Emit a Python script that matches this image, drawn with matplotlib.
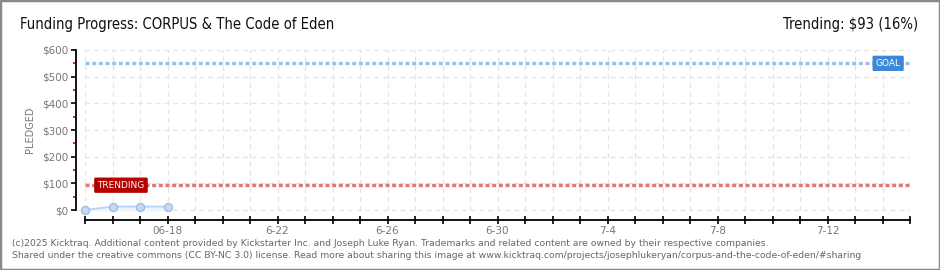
import matplotlib
matplotlib.use("Agg")
import matplotlib.pyplot as plt
import matplotlib.transforms as mtransforms
import pandas as pd
from matplotlib.patches import Rectangle

# chart data
title = "Funding Progress: CORPUS & The Code of Eden"
trend_label = "Trending: $93 (16%)"
days = pd.date_range("2025-06-15", "2025-06-18")
pledged = [0, 13, 13, 13]
goal = 550
trending = 93
all_days = pd.date_range("2025-06-15", "2025-07-15")
label_days = pd.date_range("2025-06-18", "2025-07-12", freq="4D")
label_text = ["06-18", "6-22", "6-26", "6-30", "7-4", "7-8", "7-12"]
y_ticks = [0, 100, 200, 300, 400, 500, 600]
y_minor = [50, 150, 250, 350, 450, 550]
footer = [
    "(c)2025 Kicktraq. Additional content provided by Kickstarter Inc. and Joseph Luke Ryan. "
    "Trademarks and related content are owned by their respective companies.",
    "Shared under the creative commons (CC BY-NC 3.0) license. Read more about sharing this image at "
    "www.kicktraq.com/projects/josephlukeryan/corpus-and-the-code-of-eden/#sharing",
]

plt.rcParams["font.family"] = ["DejaVu Sans"]
W, H = 940, 270
fig = plt.figure(figsize=(W / 100, H / 100), dpi=100)
fig.patch.set_facecolor("white")

ax = fig.add_axes([85 / W, (H - 220) / H, 825 / W, 170 / H])
ax.set_facecolor("white")
ax.set_xlim(all_days[0], all_days[-1])
ax.set_ylim(-37.5, 600)

# dashed grid, only inside the $0..$600 band
grid_kw = dict(color="#e4e4e4", lw=0.9, linestyles=(0, (4, 3)), zorder=0)
ax.hlines(y_ticks, all_days[0], all_days[-1], **grid_kw)
ax.vlines(all_days, 0, 600, **grid_kw)

# pledged series
ax.fill_between(days, pledged, 0, color="#edf4fc", zorder=1)
ax.plot(days, pledged, color="#b9d4f1", lw=1.3, zorder=2)
ax.plot(days, pledged, "o", ms=5.8, mfc="#c4daf4", mec="#98bce4", mew=0.9, zorder=3, clip_on=False)

# goal and trending lines
ax.axhline(goal, color="#9dbfe8", lw=2.4, dashes=(1.2, 0.8), zorder=2)
ax.axhline(trending, color="#e07676", lw=2.4, dashes=(1.2, 0.8), zorder=2)

blend = mtransforms.blended_transform_factory(ax.transAxes, ax.transData)
ax.text(0.9735, goal, "GOAL", transform=blend, ha="center", va="center",
        color="white", fontsize=6.5, zorder=5,
        bbox=dict(boxstyle="round,pad=0.35,rounding_size=0.15", fc="#3d87d7", ec="none"))
ax.text(0.0436, trending, "TRENDING", transform=blend, ha="center", va="center",
        color="white", fontsize=6.5, zorder=5,
        bbox=dict(boxstyle="round,pad=0.35,rounding_size=0.15", fc="#b50000", ec="none"))

# spines
for s in ["top", "right"]:
    ax.spines[s].set_visible(False)
ax.spines["left"].set_position(("outward", 6.5))
ax.spines["left"].set_bounds(0, 600)
ax.spines["left"].set_linewidth(1.3)
ax.spines["bottom"].set_linewidth(1.3)

ax.set_yticks(y_ticks)
ax.set_yticklabels(["$%d" % v for v in y_ticks])
ax.set_yticks(y_minor, minor=True)
ax.tick_params(axis="y", which="major", length=3.5, width=1.2, pad=2,
               labelsize=7.5, labelcolor="#777777", color="black")
ax.tick_params(axis="y", which="minor", length=2.5, width=1.2, color="#e00000")

ax.set_xticks(all_days)
lab = dict(zip(label_days, label_text))
ax.set_xticklabels([lab.get(d, "") for d in all_days])
ax.tick_params(axis="x", which="major", direction="inout", length=6, width=1.2,
               pad=1, labelsize=7.5, labelcolor="#777777", color="black")

fig.text(30 / W, 1 - 130 / H, "PLEDGED", rotation=90, ha="center", va="center",
         fontsize=7, color="#777777")

fig.text(20 / W, 1 - 24 / H, title, ha="left", va="center",
         fontsize=10.6, fontstretch="condensed", color="#111111")
fig.text(918 / W, 1 - 24 / H, trend_label, ha="right", va="center",
         fontsize=10.6, fontstretch="condensed", color="#111111")

fig.text(12 / W, 1 - 243 / H, footer[0], ha="left", va="center", fontsize=6.65, color="#666666")
fig.text(12 / W, 1 - 256 / H, footer[1], ha="left", va="center", fontsize=6.65, color="#666666")

fig.patches.append(Rectangle((0, 0), 1, 1, transform=fig.transFigure, fill=False,
                             ec="#8a8a8a", lw=2.5))

fig.savefig("out.png", dpi=100)
